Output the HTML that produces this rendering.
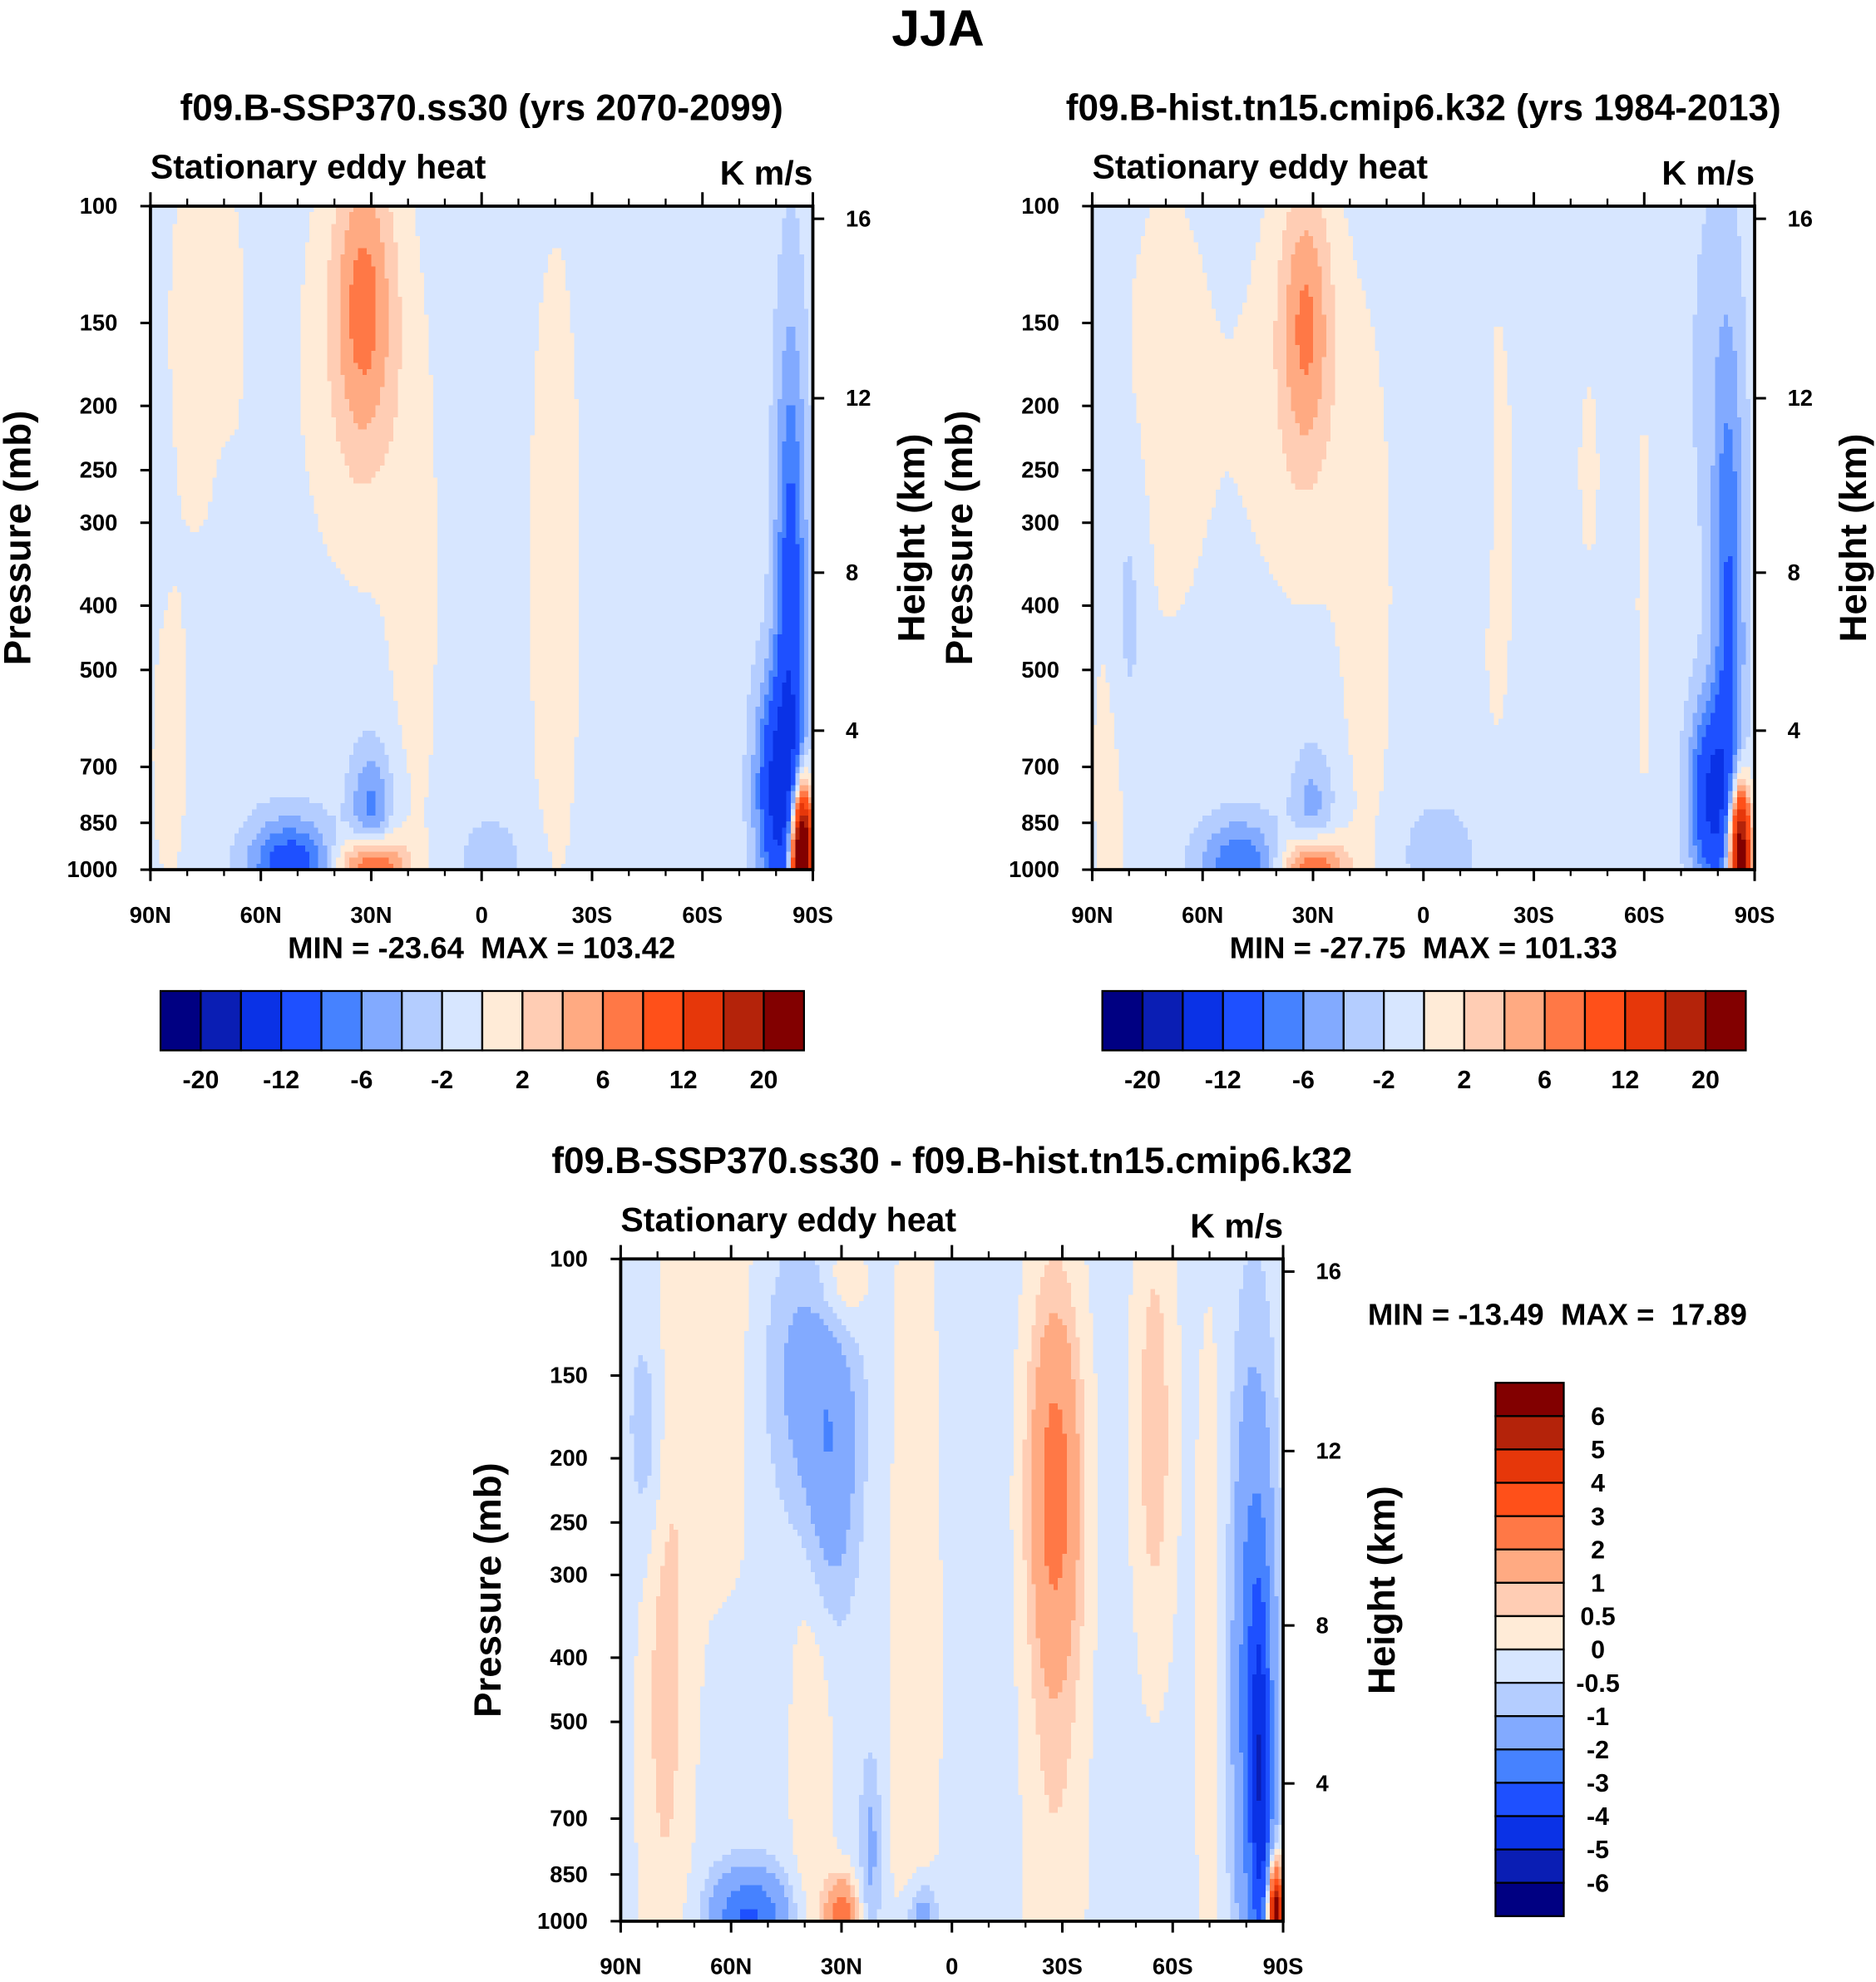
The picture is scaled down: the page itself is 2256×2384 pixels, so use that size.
<!DOCTYPE html>
<html><head><meta charset="utf-8"><style>
html,body{margin:0;padding:0;background:#fff}
svg{display:block}
text{font-family:"Liberation Sans",sans-serif;font-weight:bold;fill:#000;white-space:pre}
</style></head><body>
<svg id="root" xmlns="http://www.w3.org/2000/svg" width="2256" height="2384" viewBox="0 0 1484 1568">
<text x="742" y="36" font-size="40" text-anchor="middle">JJA</text>
<text x="381" y="95" font-size="29" text-anchor="middle">f09.B-SSP370.ss30 (yrs 2070-2099)</text>
<text x="1126" y="95" font-size="29" text-anchor="middle">f09.B-hist.tn15.cmip6.k32 (yrs 1984-2013)</text>
<text x="753" y="928" font-size="29" text-anchor="middle">f09.B-SSP370.ss30 - f09.B-hist.tn15.cmip6.k32</text>
<g id="panels"></g>
</svg>
<script>
const colors = ["#000082","#0a1eb4","#0a32e6","#1e50ff","#4682ff","#82aaff","#b4cdff","#d7e6ff","#ffebd7","#ffcdb4","#ffaa82","#ff7846","#ff5019","#e6370a","#b4230a","#820000"];
const levelsAbs = [-20,-16,-12,-8,-6,-4,-2,0,2,4,6,8,12,16,20];
const levelsDiff = [-6,-5,-4,-3,-2,-1,-0.5,0,0.5,1,2,3,4,5,6];
const levelLabelsAbs = ["-20","-12","-6","-2","2","6","12","20"];
const levelLabelsDiff = ["6","5","4","3","2","1","0.5","0","-0.5","-1","-2","-3","-4","-5","-6"];
const latTicks = [90,60,30,0,-30,-60,-90];
const latTickLabels = ["90N","60N","30N","0","30S","60S","90S"];
const pTicks = [100,150,200,250,300,400,500,700,850,1000];
const hTicks = [16,12,8,4];
const hTickY = [173,315,453,578];
// blobs: [lat, pressure, amplitude, sigmaLat, sigmaLog10P]
const blobs1 = [[75,150,1.6,10,0.3],[32,140,6.5,6,0.16],[35,180,1.8,12,0.25],[18,450,1.4,6,0.35],[-20,350,1.6,7,0.5],[-45,400,0.8,3,0.2],[85,700,1.4,5,0.2],
 [30,995,12,6,0.035],[52,985,-9,8,0.05],[30,820,-6,4,0.07],[70,380,-1,2,0.12],[-84,420,-9,3,0.3],[-80,760,-11,4,0.12],[-87,960,36,2,0.07],[-3,960,-2.5,6,0.04],[-60,900,-0.5,3,0.1]];
const base1 = -1;
const blobs2 = [[70,200,1.5,12,0.35],[32,150,6,5,0.15],[34,200,1.8,12,0.25],[15,450,1.5,6,0.35],[-20,300,1.2,7,0.5],[-45,250,1.4,3,0.15],[-60,400,1.5,2,0.3],[85,750,1.4,5,0.2],
 [30,995,11,6,0.035],[50,985,-7,8,0.05],[30,820,-4,4,0.07],[80,420,-2.5,3,0.15],[-83,430,-7,3,0.3],[-78,780,-11,4,0.1],[-86,950,28,2,0.07],[-5,950,-3,7,0.05],[-78,180,-1.5,5,0.25],[-15,260,-1.5,2,0.1]];
const base2 = -1;
const blobs3 = [[62,130,0.5,10,0.3],[85,180,-0.3,5,0.2],[78,420,0.9,5,0.35],[40,150,-1.1,9,0.15],[33,210,-1.3,5,0.15],[10,400,0.55,5,0.6],[38,600,0.6,4,0.3],[-28,220,2.3,5,0.2],[-28,600,0.6,6,0.5],[-55,180,1.0,4,0.25],
 [30,110,0.9,5,0.06],[-82,450,-2.6,4,0.32],[-84,650,-2.8,2,0.2],[-88,980,8,1.5,0.05],[55,990,-3,7,0.05],[30,990,3,3,0.04],[8,990,-1.5,3,0.04],[22,780,-1,2,0.1],[82,190,-0.6,3,0.12],[-70,400,0.5,3,0.4]];
const base3 = -0.2;

const NS="http://www.w3.org/2000/svg";
function el(tag, attrs, parent){const e=document.createElementNS(NS,tag);for(const k in attrs)e.setAttribute(k,attrs[k]);parent.appendChild(e);return e;}
function txt(parent,x,y,s,size,anchor,extra){const t=el('text',Object.assign({x:x,y:y,'font-size':size,'text-anchor':anchor||'start'},extra||{}),parent);t.textContent=s;return t;}
function field(blobs,base,lat,p){let v=base;const lp=Math.log10(p);for(const b of blobs){const dl=(lat-b[0])/b[3],dp=(lp-Math.log10(b[1]))/b[4];v+=b[2]*Math.exp(-0.5*(dl*dl+dp*dp));}return v;}
function colorOf(v,levels){let i=0;while(i<levels.length&&v>=levels[i])i++;return colors[i];}

function panel(id,L,T,W,H,blobs,base,levels){
  const g=el('g',{},document.getElementById('panels'));
  
  
  const xS=lat=>L+(90-lat)/180*W;
  const yS=p=>T+(Math.log10(p)-2)*H;
  const NX=150,NY=110;
  const cg=el('g',{'shape-rendering':'crispEdges'},g);
  
  
  for(let j=0;j<NY;j++){
    const p0=Math.pow(10,2+j/NY),p1=Math.pow(10,2+(j+1)/NY),pm=Math.pow(10,2+(j+0.5)/NY);
    let runStart=0,runColor=null;
    for(let i=0;i<=NX;i++){
      let c=null;
      if(i<NX){const lat=90-(i+0.5)*180/NX;c=colorOf(field(blobs,base,lat,pm),levels);}
      if(c!==runColor){
        if(runColor!==null){
          const x0=xS(90-runStart*180/NX),x1=xS(90-i*180/NX);
          el('rect',{x:x0.toFixed(2),y:yS(p0).toFixed(2),width:(x1-x0+0.5).toFixed(2),height:(yS(p1)-yS(p0)+0.5).toFixed(2),fill:runColor},cg);
        }
        runColor=c;runStart=i;
      }
    }
  }
  const frame=el('rect',{x:L,y:T,width:W,height:H,fill:'none',stroke:'#000','stroke-width':2.5},g);
  
  
  latTicks.forEach((lat,k)=>{
    const x=xS(lat);
    el('line',{x1:x,y1:T+H,x2:x,y2:T+H+9,stroke:'#000','stroke-width':2},g);
    el('line',{x1:x,y1:T,x2:x,y2:T-11,stroke:'#000','stroke-width':2},g);
    const t=txt(g,x,T+H+42,latTickLabels[k],18,'middle');
    
    
  });
  for(let lat=80;lat>-90;lat-=10){if(lat%30===0)continue;const x=xS(lat);
    el('line',{x1:x,y1:T+H,x2:x,y2:T+H+5,stroke:'#000','stroke-width':1.5},g);
    el('line',{x1:x,y1:T,x2:x,y2:T-6,stroke:'#000','stroke-width':1.5},g);}
  pTicks.forEach(p=>{const y=yS(p);
    el('line',{x1:L-8,y1:y,x2:L,y2:y,stroke:'#000','stroke-width':2},g);
    const t=txt(g,L-26,y+6,String(p),18,'end');
    
    });
  hTicks.forEach((h,k)=>{const y=T+(hTickY[k]-163);
    el('line',{x1:L+W,y1:y,x2:L+W+9,y2:y,stroke:'#000','stroke-width':2},g);
    const t=txt(g,L+W+26,y+6,String(h),18,'start');
    
    });
  const yl=txt(g,0,0,'Pressure (mb)',30,'middle',{transform:`translate(${L-95},${T+H/2}) rotate(-90)`});
  
  
  const hl=txt(g,0,0,'Height (km)',30,'middle',{transform:`translate(${L+W+88},${T+H/2}) rotate(-90)`});
  
  
  const lt=txt(g,L,T-22,'Stationary eddy heat',27,'start');
  
  
  const ut=txt(g,L+W,T-17,'K m/s',27,'end');
  
  
  return g;
}
function hbar(id,L,T,W,H,labels){
  const g=el('g',{},document.getElementById('panels'));
  
  
  const bw=W/colors.length;
  colors.forEach((c,i)=>el('rect',{x:L+i*bw,y:T,width:bw,height:H,fill:c,stroke:'#000','stroke-width':1.5},g));
  labels.forEach((s,k)=>{const t=txt(g,L+(1+2*k)*bw,T+H+30,s,20,'middle');
    
    });
}
function vbar(id,L,T,W,H,labels){
  const g=el('g',{},document.getElementById('panels'));
  
  
  const bh=H/colors.length;
  colors.slice().reverse().forEach((c,i)=>el('rect',{x:L,y:T+i*bh,width:W,height:bh,fill:c,stroke:'#000','stroke-width':1.5},g));
  labels.forEach((s,k)=>{const t=txt(g,L+W+27,T+(k+1)*bh+7,s,20,'middle');
    
    });
}
panel('panel1',119,163,524,525,blobs1,base1,levelsAbs);
panel('panel2',864,163,524,525,blobs2,base2,levelsAbs);
panel('panel3',491,996,524,524,blobs3,base3,levelsDiff);
hbar('colorbar-panel1',127,784,509,47,levelLabelsAbs);
hbar('colorbar-panel2',872,784,509,47,levelLabelsAbs);
vbar('colorbar-diff',1183,1094,54,422,levelLabelsDiff);
const P=document.getElementById('panels');
let t;
t=txt(P,381,758,'MIN = -23.64  MAX = 103.42',24,'middle');


t=txt(P,1126,758,'MIN = -27.75  MAX = 101.33',24,'middle');


t=txt(P,1232,1048,'MIN = -13.49  MAX =  17.89',24,'middle');


</script>
</body></html>
